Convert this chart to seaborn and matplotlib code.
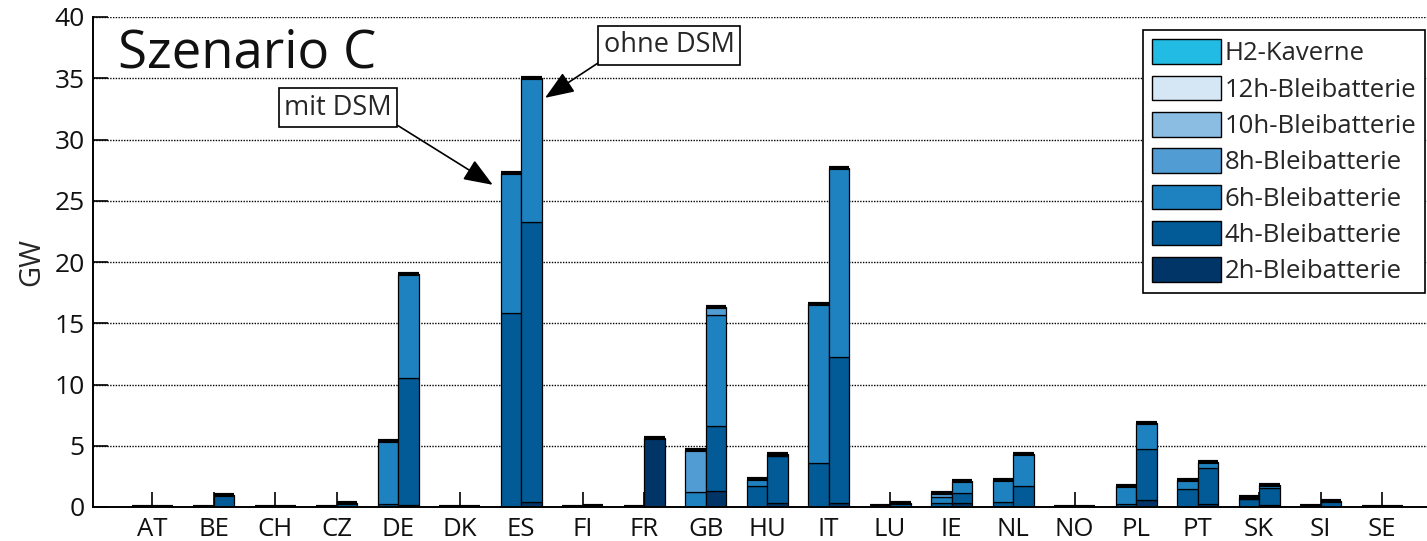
import numpy as np
import pandas as pd
import matplotlib.pyplot as plt
import matplotlib.patches as mpatches
import seaborn as sns

# Laender auf der x-Achse
countries = ["AT", "BE", "CH", "CZ", "DE", "DK", "ES", "FI", "FR", "GB", "HU",
             "IT", "LU", "IE", "NL", "NO", "PL", "PT", "SK", "SI", "SE"]

kategorien = ["H2-Kaverne", "12h-Bleibatterie", "10h-Bleibatterie",
              "8h-Bleibatterie", "6h-Bleibatterie", "4h-Bleibatterie",
              "2h-Bleibatterie"]
farben = ["#22BBE3", "#D5E6F4", "#8BBCE2", "#529CD4", "#1F82C0", "#025A96",
          "#013467"]

# Leistung in GW, mit DSM (linker Balken)
mit_2h = [0, 0, 0, 0, 0, 0, 0, 0, 0, 0, 0, 0, 0, 0, 0, 0, 0, 0, 0, 0, 0]
mit_4h = [0, 0, 0, 0, 0.25, 0, 15.8, 0, 0, 0, 1.7, 3.6, 0.1, 0.35, 0.4, 0,
          0.24, 1.5, 0.63, 0.1, 0]
mit_6h = [0, 0, 0, 0, 5.1, 0, 11.5, 0, 0, 1.2, 0.6, 12.95, 0, 0.5, 1.8, 0,
          1.5, 0.67, 0.16, 0, 0]
mit_8h = [0, 0, 0, 0, 0, 0, 0, 0, 0, 3.45, 0, 0, 0, 0.3, 0, 0, 0, 0, 0, 0, 0]

# Leistung in GW, ohne DSM (rechter Balken)
ohne_2h = [0, 0, 0, 0, 0.2, 0, 0.4, 0, 5.6, 1.33, 0.3, 0.3, 0, 0.35, 0, 0,
           0.57, 0.25, 0.2, 0, 0]
ohne_4h = [0, 0.98, 0, 0.35, 10.3, 0, 22.9, 0.1, 0, 5.27, 3.86, 11.97, 0.35,
           0.77, 1.71, 0, 4.13, 2.96, 1.38, 0.5, 0]
ohne_6h = [0, 0, 0, 0, 8.5, 0, 11.7, 0, 0, 9.07, 0.17, 15.43, 0, 1.0, 2.59, 0,
           2.13, 0.44, 0.19, 0, 0]
ohne_8h = [0, 0, 0, 0, 0, 0, 0, 0, 0, 0.68, 0, 0, 0, 0, 0, 0, 0, 0, 0, 0, 0]

null = [0] * len(countries)
mit = pd.DataFrame({"2h-Bleibatterie": mit_2h, "4h-Bleibatterie": mit_4h,
                    "6h-Bleibatterie": mit_6h, "8h-Bleibatterie": mit_8h,
                    "10h-Bleibatterie": null, "12h-Bleibatterie": null,
                    "H2-Kaverne": null}, index=countries)
ohne = pd.DataFrame({"2h-Bleibatterie": ohne_2h, "4h-Bleibatterie": ohne_4h,
                     "6h-Bleibatterie": ohne_6h, "8h-Bleibatterie": ohne_8h,
                     "10h-Bleibatterie": null, "12h-Bleibatterie": null,
                     "H2-Kaverne": null}, index=countries)

sns.set_theme(style="white")
plt.rcParams['font.family'] = ['Open Sans', 'DejaVu Sans']
farbe = dict(zip(kategorien, farben))

fig = plt.figure(figsize=(14.27, 5.41), dpi=100)
ax = fig.add_axes([93 / 1427, 34 / 541, 1334 / 1427, 490 / 541])

x = np.arange(1, len(countries) + 1)
w = 1 / 3
for offset, df in [(-w / 2, mit), (w / 2, ohne)]:
    bottom = np.zeros(len(countries))
    for kat in kategorien[::-1]:
        vals = df[kat].values
        m = vals > 0
        ax.bar(x[m] + offset, vals[m], w, bottom=bottom[m], color=farbe[kat],
               edgecolor="black", linewidth=0.9, zorder=2)
        bottom += vals
    # schwarze Oberkante der Stapel
    ax.bar(x + offset, 0, w, bottom=bottom, color="black", edgecolor="black",
           linewidth=3.0, zorder=3)

ax.set_xlim(0.04, 21.73)
ax.set_ylim(0, 40)
ax.set_yticks(range(0, 41, 5))
ax.set_xticks(x)
ax.set_xticklabels(countries)
ax.set_axisbelow(True)
ax.yaxis.grid(True, linestyle=(0, (1, 1)), color="black", linewidth=1.0)
ax.tick_params(axis="both", direction="in", length=11, width=1.2,
               color="black", labelsize=18.5, labelcolor="#111111",
               bottom=True, left=True)
ax.tick_params(axis="y", pad=6, labelsize=19)
ax.tick_params(axis="x", pad=7)
sns.despine(ax=ax, top=True, right=True)
for s in ["left", "bottom"]:
    ax.spines[s].set_color("black")
    ax.spines[s].set_linewidth(1.4)
ax.set_ylabel("GW", fontsize=21, labelpad=6)

ax.text(0.0187, 0.896, "Szenario C", transform=ax.transAxes, fontsize=38,
        va="baseline", ha="left", color="#111111")

kasten = dict(boxstyle="square,pad=0.2", fc="white", ec="black", lw=1.2)
pfeil = dict(arrowstyle="-|>,head_length=0.9,head_width=0.35",
             color="black", lw=1.2, shrinkA=0, shrinkB=0, mutation_scale=20)
ax.annotate("mit DSM", xy=(6.54, 26.3), xytext=(4.02, 32.6), fontsize=19.5,
            ha="center", va="center", bbox=kasten,
            arrowprops=dict(pfeil, relpos=(1, 0)))
ax.annotate("ohne DSM", xy=(7.39, 33.4), xytext=(9.41, 37.7), fontsize=19.5,
            ha="center", va="center", bbox=kasten,
            arrowprops=dict(pfeil, relpos=(0, 0)))

handles = [mpatches.Patch(facecolor=farbe[k], edgecolor="black", linewidth=1,
                          label=k) for k in kategorien]
leg = ax.legend(handles=handles, loc="upper right",
                bbox_to_anchor=(0.9985, 0.973), fontsize=18.5, frameon=True,
                fancybox=False, framealpha=1, edgecolor="black",
                handlelength=2.7, handleheight=1.1, handletextpad=0.12,
                labelspacing=0.36, borderpad=0.35, borderaxespad=0)
leg.get_frame().set_linewidth(1.2)

fig.savefig("out.png", dpi=100)
